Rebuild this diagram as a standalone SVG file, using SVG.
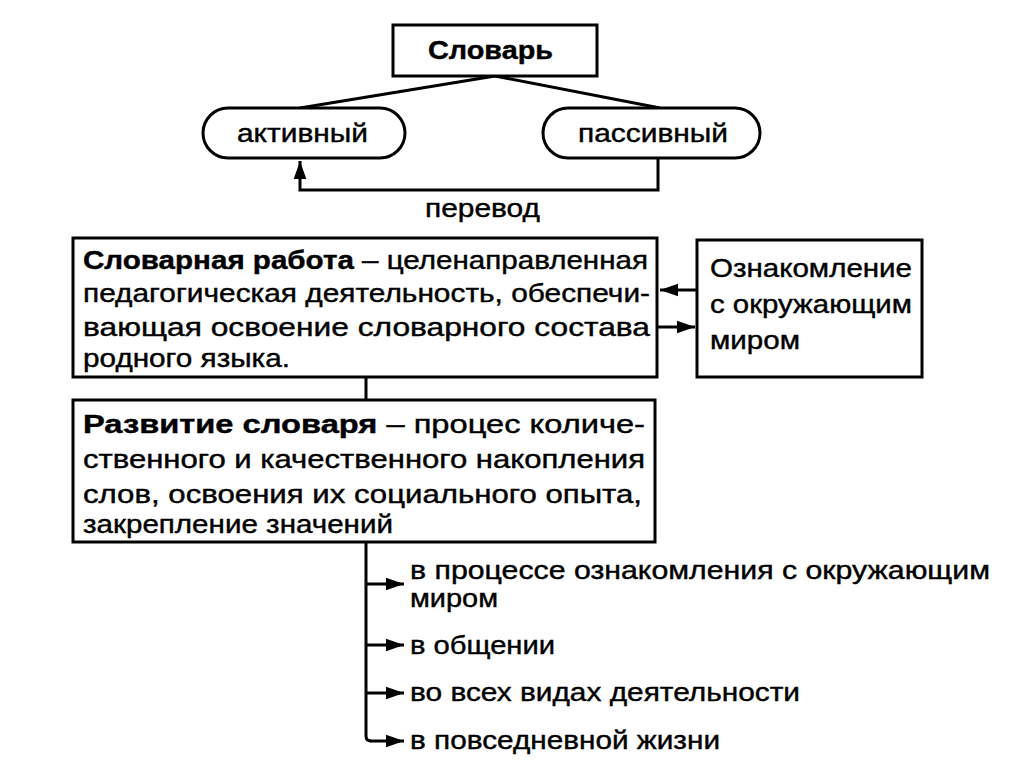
<svg xmlns="http://www.w3.org/2000/svg" width="1023" height="768" viewBox="0 0 1023 768">
<defs>
<marker id="ah" viewBox="0 0 10 10" refX="10" refY="5" markerWidth="6" markerHeight="6" orient="auto" markerUnits="strokeWidth">
<path d="M0,1.5 L10,5 L0,8.5 Z" fill="#000"/>
</marker>
</defs>
<style>
.box{fill:#fff;stroke:#000;stroke-width:3}
.ln{fill:none;stroke:#000;stroke-width:3}
.t{font-family:"Liberation Sans",Arial,sans-serif;font-size:25px;fill:#000;stroke:#000;stroke-width:0.4}
.b{font-weight:bold}
</style>
<rect width="1023" height="768" fill="#fff"/>
<g id="connectors">
<line class="ln" x1="495" y1="76" x2="300" y2="108"/>
<line class="ln" x1="495" y1="76" x2="660" y2="108"/>
<polyline class="ln" points="658,158 658,190 300,190 300,161" marker-end="url(#ah)"/>
<line class="ln" x1="697" y1="290" x2="660" y2="290" marker-end="url(#ah)"/>
<line class="ln" x1="657" y1="327" x2="695" y2="327" marker-end="url(#ah)"/>
<line class="ln" x1="366" y1="377" x2="366" y2="400"/>
<path class="ln" d="M366,542 V736 Q366,741 371,741"/>
<line class="ln" x1="366" y1="584" x2="404" y2="584" marker-end="url(#ah)"/>
<line class="ln" x1="366" y1="645" x2="404" y2="645" marker-end="url(#ah)"/>
<line class="ln" x1="366" y1="693" x2="404" y2="693" marker-end="url(#ah)"/>
<line class="ln" x1="370" y1="741" x2="404" y2="741" marker-end="url(#ah)"/>
<text class="t" x="425" y="217" textLength="115" lengthAdjust="spacingAndGlyphs">перевод</text>
</g>
<g id="slovar">
<rect class="box" x="393" y="25" width="204" height="51"/>
<text class="t b" x="428" y="59" textLength="125" lengthAdjust="spacingAndGlyphs">Словарь</text>
</g>
<g id="aktivny">
<rect class="box" x="203" y="108" width="202" height="50" rx="25"/>
<text class="t" x="237" y="142" textLength="131" lengthAdjust="spacingAndGlyphs">активный</text>
</g>
<g id="passivny">
<rect class="box" x="543" y="108" width="217" height="50" rx="25"/>
<text class="t" x="578" y="142" textLength="150" lengthAdjust="spacingAndGlyphs">пассивный</text>
</g>
<g id="rabota">
<rect class="box" x="73" y="238" width="584" height="139"/>
<text class="t" x="83" y="269" textLength="565" lengthAdjust="spacingAndGlyphs"><tspan class="b">Словарная работа</tspan> – целенаправленная</text>
<text class="t" x="83" y="302" textLength="567" lengthAdjust="spacingAndGlyphs">педагогическая деятельность, обеспечи-</text>
<text class="t" x="83" y="336" textLength="567" lengthAdjust="spacingAndGlyphs">вающая освоение словарного состава</text>
<text class="t" x="83" y="367" textLength="207" lengthAdjust="spacingAndGlyphs">родного языка.</text>
</g>
<g id="oznakomlenie">
<rect class="box" x="697" y="240" width="225" height="137"/>
<text class="t" x="710" y="277" textLength="202" lengthAdjust="spacingAndGlyphs">Ознакомление</text>
<text class="t" x="710" y="313" textLength="202" lengthAdjust="spacingAndGlyphs">с окружающим</text>
<text class="t" x="710" y="349" textLength="90" lengthAdjust="spacingAndGlyphs">миром</text>
</g>
<g id="razvitie">
<rect class="box" x="73" y="400" width="582" height="142"/>
<text class="t" x="83" y="433" textLength="562" lengthAdjust="spacingAndGlyphs"><tspan class="b">Развитие словаря</tspan> – процес количе-</text>
<text class="t" x="83" y="468" textLength="562" lengthAdjust="spacingAndGlyphs">ственного и качественного накопления</text>
<text class="t" x="83" y="503" textLength="559" lengthAdjust="spacingAndGlyphs">слов, освоения их социального опыта,</text>
<text class="t" x="83" y="533" textLength="310" lengthAdjust="spacingAndGlyphs">закрепление значений</text>
</g>
<g id="items">
<text class="t" x="410" y="579" textLength="580" lengthAdjust="spacingAndGlyphs">в процессе ознакомления с окружающим</text>
<text class="t" x="410" y="607" textLength="88" lengthAdjust="spacingAndGlyphs">миром</text>
<text class="t" x="410" y="654" textLength="145" lengthAdjust="spacingAndGlyphs">в общении</text>
<text class="t" x="410" y="701" textLength="390" lengthAdjust="spacingAndGlyphs">во всех видах деятельности</text>
<text class="t" x="410" y="749" textLength="310" lengthAdjust="spacingAndGlyphs">в повседневной жизни</text>
</g>
</svg>
